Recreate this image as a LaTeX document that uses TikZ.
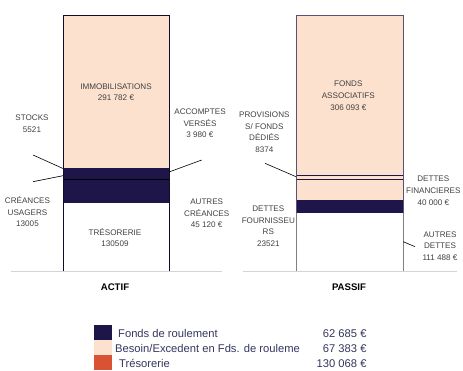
\documentclass[tikz,border=0pt]{standalone}
\usepackage{fontspec}
\setmainfont{Liberation Sans}
\definecolor{peach}{HTML}{FDE1CF}
\definecolor{navy}{HTML}{1E1549}
\definecolor{orangered}{HTML}{D95234}
\definecolor{txt}{HTML}{404040}
\definecolor{legtxt}{HTML}{35355F}
\definecolor{baseln}{HTML}{D4D4D4}
\definecolor{rborder}{HTML}{5C4F78}
\begin{document}
\begin{tikzpicture}[x=1pt,y=-1pt,
  lbl/.style={align=center, font=\fontsize{8.1}{11.7}\selectfont, text=txt, inner sep=0pt},
  ttl/.style={font=\fontsize{9.6}{12}\selectfont\bfseries, text=black, inner sep=0pt},
  leg/.style={font=\fontsize{11.2}{14}\selectfont, text=legtxt, inner sep=0pt},
  leader/.style={draw=black, line width=0.6pt},
  sep/.style={draw=navy, line width=0.7pt},
  base/.style={draw=baseln, line width=0.8pt}]
\useasboundingbox (0,0) rectangle (463,370);

% baselines
\coordinate (bl1) at (11,271); \coordinate (bl2) at (222,271);
\coordinate (br1) at (243,271); \coordinate (br2) at (457,271);
\draw[base] (bl1) -- (bl2);
\draw[base] (br1) -- (br2);

% ACTIF bar
\fill[peach] (63,15) rectangle (169,168);
\fill[navy] (63,168) rectangle (169,203);
\fill[white] (63,203) rectangle (169,271);
\draw[black, line width=0.8pt] (63,179) -- (169,179);
\draw[navy!60!black, line width=0.8pt] (63,271) -- (63,15) -- (169,15) -- (169,271);

% PASSIF bar
\fill[peach] (296,15) rectangle (403,200);
\fill[navy] (296,200) rectangle (403,213);
\fill[white] (296,213) rectangle (403,271);
\draw[sep] (296,175) -- (403,175);
\draw[sep] (296,179.5) -- (403,179.5);
\draw[rborder, line width=0.8pt] (296,213) -- (296,15) -- (403,15) -- (403,213);
\draw[gray, line width=0.8pt] (296,213) -- (296,271);
\draw[gray, line width=0.8pt] (403,213) -- (403,271);

% bar texts
\node[lbl] (immo) at (116,92.2) {IMMOBILISATIONS\\291 782 €};
\node[lbl] (treso) at (115,237.5) {TRÉSORERIE\\130509};
\node[lbl] (fonds) at (348.3,95.6) {FONDS\\ASSOCIATIFS\\306 093 €};

% side labels
\node[lbl] (stocks) at (32,123.8) {STOCKS\\5521};
\node[lbl] (accomp) at (200,123.3) {ACCOMPTES\\VERSÉS\\3 980 €};
\node[lbl] (creus) at (27.5,211.7) {CRÉANCES\\USAGERS\\13005};
\node[lbl] (autcre) at (206.7,213.5) {AUTRES\\CRÉANCES\\45 120 €};
\node[lbl] (provis) at (264.3,132.3) {PROVISIONS\\S/ FONDS\\DÉDIÉS\\8374};
\node[lbl] (detfin) at (433.3,190.8) {DETTES\\FINANCIERES\\40 000 €};
\node[lbl] (detfou) at (268.3,226.3) {DETTES\\FOURNISSEU\\RS\\23521};
\node[lbl] (autdet) at (440,246.2) {AUTRES\\DETTES\\111 488 €};

% leader lines
\coordinate (l1a) at (33,155); \coordinate (l1b) at (63,168.5);
\coordinate (l2a) at (33,181.7); \coordinate (l2b) at (63,175.7);
\coordinate (r1a) at (169,172); \coordinate (r1b) at (201.7,160);
\coordinate (p1a) at (265,163.3); \coordinate (p1b) at (296,176.7);
\coordinate (p2a) at (403.3,241.7); \coordinate (p2b) at (415,246.7);
\draw[leader] (l1a) -- (l1b);
\draw[leader] (l2a) -- (l2b);
\draw[leader] (r1a) -- (r1b);
\draw[leader] (p1a) -- (p1b);
\draw[leader] (p2a) -- (p2b);

% titles
\node[ttl] (actif) at (115,286.7) {ACTIF};
\node[ttl] (passif) at (349,286.7) {PASSIF};

% legend
\fill[navy] (94,325) rectangle (112,340);
\fill[peach] (94,340) rectangle (112,355);
\fill[orangered] (94,355) rectangle (112,370);
\node[leg, anchor=base west] (lg1) at (118,337.4) {Fonds de roulement};
\node[leg, anchor=base west] (lg2) at (115,352.1) {Besoin/Excedent en Fds. de rouleme};
\node[leg, anchor=base west] (lg3) at (119,367.1) {Trésorerie};
\node[leg, anchor=base east] (v1) at (366.7,337.4) {62 685 €};
\node[leg, anchor=base east] (v2) at (366.7,352.1) {67 383 €};
\node[leg, anchor=base east] (v3) at (366.7,367.1) {130 068 €};
\end{tikzpicture}
\end{document}
